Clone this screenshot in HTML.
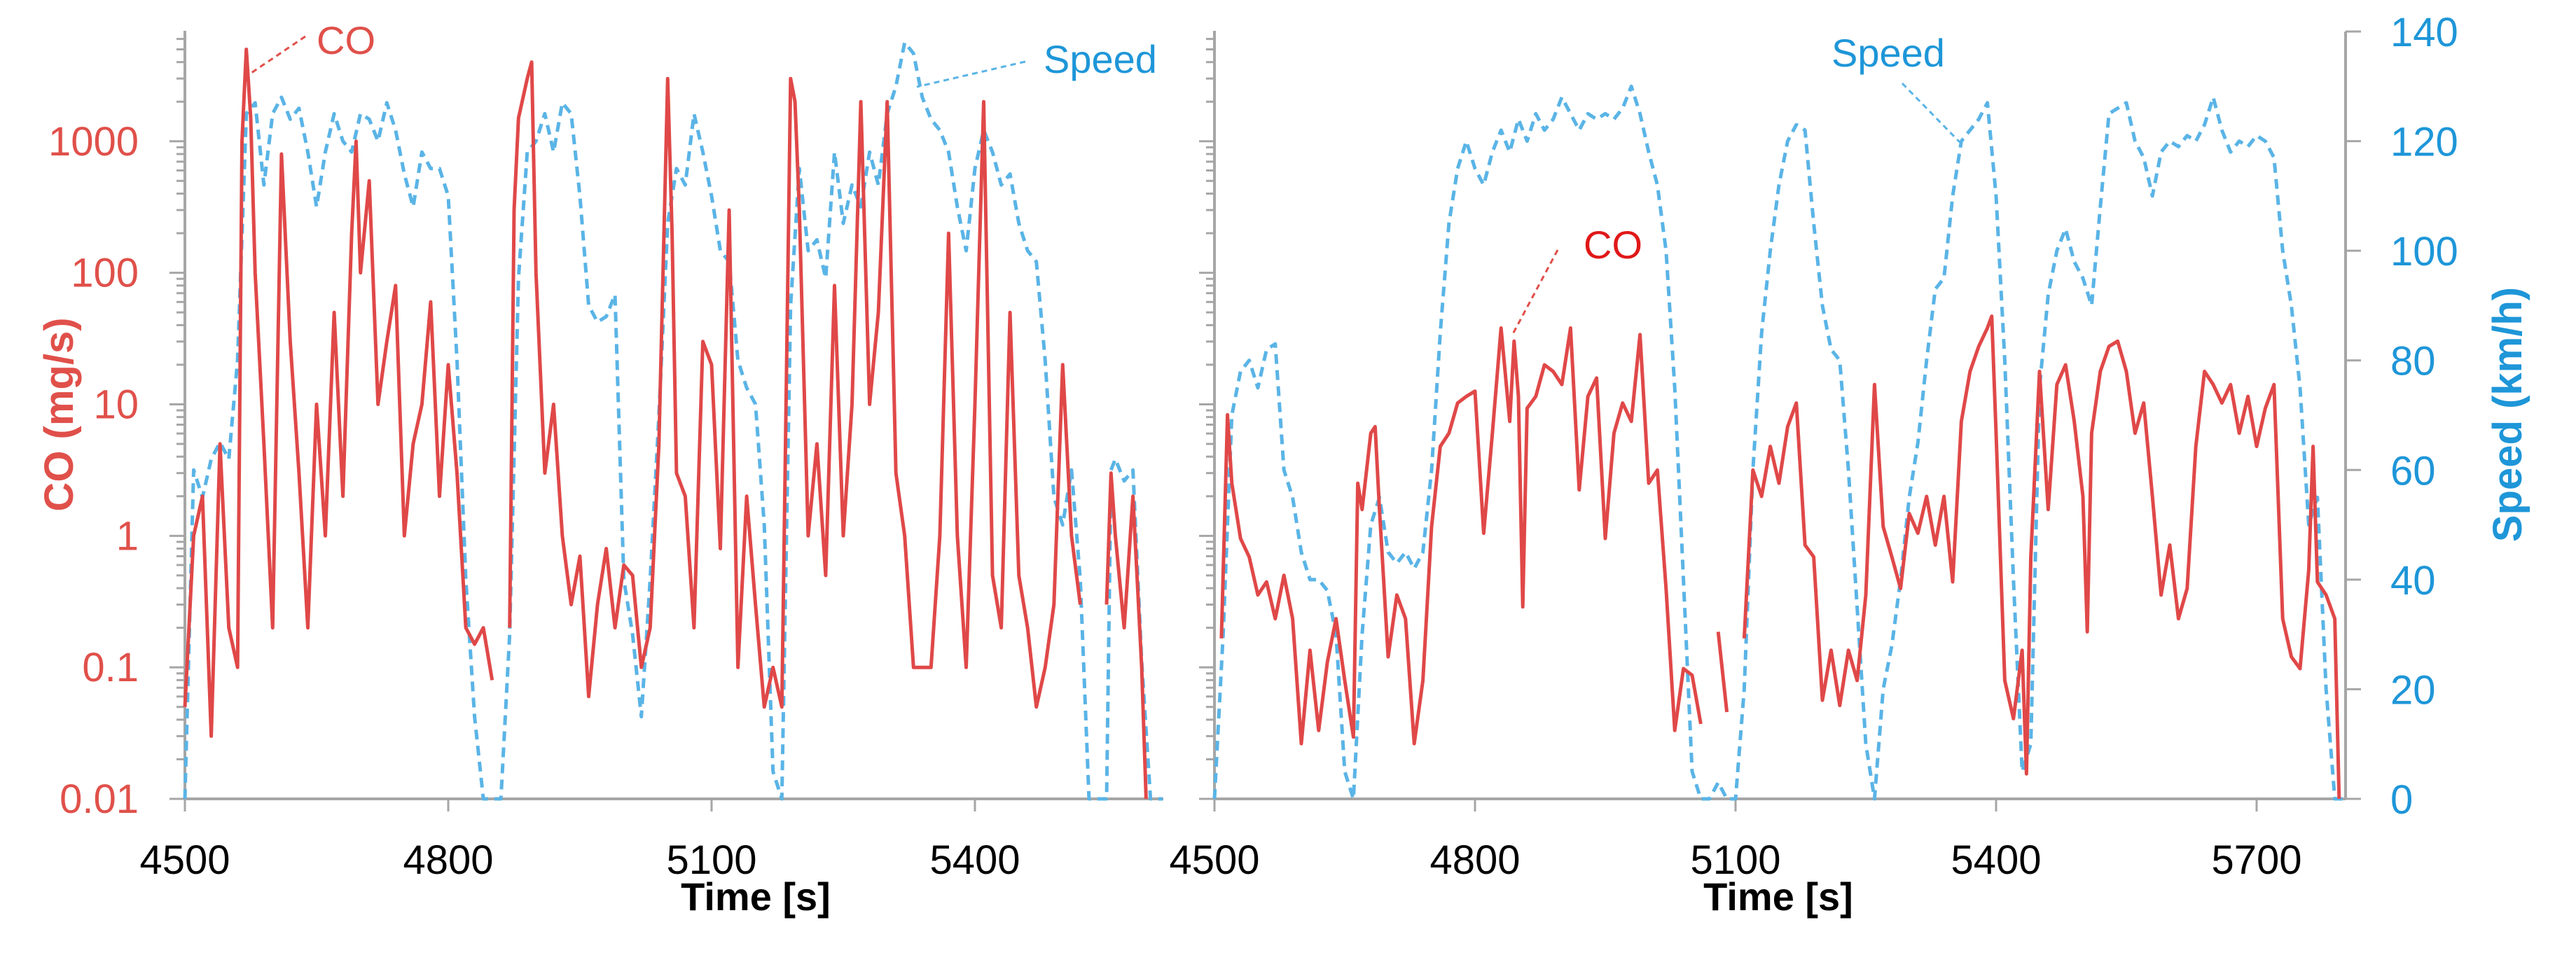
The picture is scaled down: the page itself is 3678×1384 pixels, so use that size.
<!DOCTYPE html>
<html><head><meta charset="utf-8">
<style>
html,body{margin:0;padding:0;background:#fff;}
svg{display:block;font-family:"Liberation Sans",sans-serif;}
</style></head>
<body>
<svg id="chart" width="3678" height="1384" viewBox="0 0 3678 1384" xmlns="http://www.w3.org/2000/svg">
<g id="static">
  <text x="0" y="0" transform="translate(104,592) rotate(-90)" text-anchor="middle" font-size="58" font-weight="bold" fill="#E0504A">CO (mg/s)</text>
  <text x="0" y="0" transform="translate(3600,592) rotate(-90)" text-anchor="middle" font-size="58" font-weight="bold" fill="#1E96D8">Speed  (km/h)</text>
  <text x="1079" y="1300" text-anchor="middle" font-size="56" font-weight="bold" fill="#000">Time [s]</text>
  <text x="2539" y="1300" text-anchor="middle" font-size="56" font-weight="bold" fill="#000">Time [s]</text>
  <text x="452" y="77" font-size="56" fill="#E0504A">CO</text>
  <line x1="436" y1="52" x2="356" y2="106" stroke="#E0504A" stroke-width="3" stroke-dasharray="8,6"/>
  <text x="1490" y="104" font-size="56" fill="#1E96D8">Speed</text>
  <line x1="1464" y1="88" x2="1309" y2="124" stroke="#5AB4E6" stroke-width="3" stroke-dasharray="8,6"/>
  <text x="2615" y="95" font-size="56" fill="#1E96D8">Speed</text>
  <line x1="2716" y1="119" x2="2798" y2="203" stroke="#5AB4E6" stroke-width="3" stroke-dasharray="8,6"/>
  <text x="2261" y="369" font-size="56" fill="#E01818">CO</text>
  <line x1="2224" y1="357" x2="2160" y2="477" stroke="#E0504A" stroke-width="3" stroke-dasharray="8,6"/>
</g>
</svg>
<script>
// ---- data ----
const leftTime = [4500,4510,4520,4530,4540,4550,4560,4565,4570,4575,4580,4590,4600,4610,4620,4630,4640,4650,4660,4670,4680,4690,4695,4700,4710,4720,4730,4740,4750,4760,4770,4780,4790,4800,4810,4820,4830,4840,4850,4860,4870,4875,4880,4890,4895,4900,4910,4920,4930,4940,4950,4960,4970,4980,4990,5000,5010,5020,5030,5040,5050,5055,5060,5070,5080,5090,5100,5110,5120,5130,5140,5150,5160,5170,5180,5190,5195,5200,5210,5220,5230,5240,5250,5260,5270,5280,5290,5300,5310,5320,5330,5340,5350,5360,5370,5380,5390,5400,5410,5420,5430,5440,5450,5460,5470,5480,5490,5500,5510,5520,5535,5550,5555,5560,5570,5580,5590,5595];
const leftCO = [0.05,1,2,0.03,5,0.2,0.1,1000,5000,1500,100,5,0.2,800,30,3,0.2,10,1,50,2,200,1000,100,500,10,30,80,1,5,10,60,2,20,3,0.2,0.15,0.2,0.08,null,0.2,300,1500,3000,4000,100,3,10,1,0.3,0.7,0.06,0.3,0.8,0.2,0.6,0.5,0.1,0.2,5,3000,200,3,2,0.2,30,20,0.8,300,0.1,2,0.3,0.05,0.1,0.05,3000,2000,300,1,5,0.5,80,1,10,2000,10,50,2000,3,1,0.1,0.1,0.1,1,200,1,0.1,10,2000,0.5,0.2,50,0.5,0.2,0.05,0.1,0.3,20,1,0.3,null,0.3,3,1,0.2,2,0.1,0.01];
const leftSpeedTime = [4500,4510,4520,4530,4540,4550,4560,4570,4580,4590,4600,4610,4620,4630,4640,4650,4660,4670,4680,4690,4700,4710,4720,4730,4740,4750,4760,4770,4780,4790,4800,4810,4820,4830,4840,4850,4860,4870,4880,4890,4900,4910,4920,4930,4940,4950,4960,4970,4980,4990,5000,5010,5020,5030,5040,5050,5060,5070,5080,5090,5100,5110,5120,5130,5140,5150,5160,5170,5180,5190,5200,5210,5220,5230,5240,5250,5260,5270,5280,5290,5300,5310,5320,5330,5340,5350,5360,5370,5380,5390,5400,5410,5420,5430,5440,5450,5460,5470,5480,5490,5500,5510,5520,5530,5540,5550,5555,5560,5570,5580,5590,5600,5614];
const leftSpeed = [0,60,55,62,65,62,80,125,127,112,125,128,124,126,118,108,118,125,120,118,125,124,120,127,122,114,108,118,115,115,110,80,40,15,0,0,0,30,95,118,120,125,118,127,125,110,90,87,88,92,40,30,15,40,70,105,115,112,125,118,110,100,98,80,75,72,50,5,0,90,115,100,102,95,118,105,112,108,118,112,125,130,138,136,128,124,122,118,108,100,115,122,118,112,114,105,100,98,80,55,50,60,40,0,0,0,60,62,58,60,25,0,0];
const rightTime = [4508,4515,4520,4530,4540,4550,4560,4570,4580,4590,4600,4610,4620,4630,4640,4650,4660,4665,4670,4680,4685,4690,4700,4710,4720,4730,4740,4750,4760,4770,4780,4790,4800,4810,4820,4830,4840,4845,4850,4855,4860,4870,4880,4890,4900,4910,4920,4930,4940,4950,4960,4970,4980,4990,5000,5010,5020,5030,5040,5050,5060,5070,5080,5090,5100,5110,5120,5130,5140,5150,5160,5170,5180,5190,5200,5210,5220,5230,5240,5250,5260,5270,5280,5290,5300,5310,5320,5330,5340,5350,5360,5370,5380,5390,5395,5400,5410,5420,5430,5435,5440,5450,5460,5470,5480,5490,5500,5505,5510,5520,5530,5540,5550,5560,5570,5580,5590,5600,5610,5620,5630,5640,5650,5660,5670,5680,5690,5700,5710,5720,5730,5740,5750,5760,5765,5770,5780,5790,5795];
const rightCOlog = [-0.78,0.92,0.4,-0.02,-0.16,-0.45,-0.35,-0.63,-0.3,-0.63,-1.58,-0.87,-1.48,-0.96,-0.63,-1.1,-1.53,0.4,0.2,0.78,0.83,0.2,-0.92,-0.45,-0.63,-1.58,-1.1,0.07,0.68,0.78,1.01,1.06,1.1,0.02,0.78,1.58,0.87,1.48,1.06,-0.54,0.97,1.06,1.3,1.25,1.15,1.58,0.35,1.06,1.2,-0.02,0.78,1.01,0.87,1.53,0.4,0.5,-0.4,-1.48,-1.01,-1.06,-1.43,null,-0.73,-1.34,null,-0.78,0.5,0.3,0.68,0.4,0.83,1.01,-0.07,-0.16,-1.25,-0.87,-1.29,-0.87,-1.1,-0.45,1.15,0.07,-0.16,-0.4,0.17,0.02,0.3,-0.07,0.3,-0.35,0.87,1.25,1.44,1.58,1.67,0.78,-1.1,-1.39,-0.87,-1.81,-0.16,1.25,0.2,1.15,1.3,0.87,0.3,-0.73,0.78,1.25,1.44,1.48,1.25,0.78,1.01,0.3,-0.45,-0.07,-0.63,-0.4,0.68,1.25,1.15,1.01,1.15,0.78,1.06,0.68,0.97,1.15,-0.63,-0.92,-1.01,-0.26,0.68,-0.35,-0.45,-0.63,-2];
const rightSpeedTime = [4500,4510,4520,4530,4540,4550,4560,4570,4580,4590,4600,4610,4620,4630,4640,4650,4660,4670,4680,4690,4700,4710,4720,4730,4740,4750,4760,4770,4780,4790,4800,4810,4820,4830,4840,4850,4860,4870,4880,4890,4900,4910,4920,4930,4940,4950,4960,4970,4980,4990,5000,5010,5020,5030,5040,5050,5060,5070,5080,5090,5100,5110,5120,5130,5140,5150,5160,5170,5180,5190,5200,5210,5220,5230,5240,5250,5260,5270,5280,5290,5300,5310,5320,5330,5340,5350,5360,5370,5380,5390,5400,5410,5420,5430,5440,5450,5460,5470,5480,5490,5500,5510,5520,5530,5540,5550,5560,5570,5580,5590,5600,5610,5620,5630,5640,5650,5660,5670,5680,5690,5700,5710,5720,5730,5740,5750,5760,5770,5780,5790,5800];
const rightSpeed = [0,30,70,78,80,75,82,83,60,55,45,40,40,38,30,5,0,30,50,55,45,43,45,42,45,60,85,105,115,120,115,112,118,122,118,124,120,125,122,124,128,125,122,125,124,125,124,126,130,125,118,112,100,75,40,5,0,0,3,0,0,20,60,85,100,112,120,123,122,105,90,82,80,60,35,10,0,20,28,40,55,65,80,93,95,110,120,122,124,127,110,80,40,5,10,75,92,100,104,98,95,90,108,125,126,127,120,117,110,118,120,119,121,120,123,128,122,118,120,119,121,120,117,100,90,75,50,55,20,0,0];
const coTicks = ["0.01","0.1","1","10","100","1000"];
const speedTicks = ["0","20","40","60","80","100","120","140"];
const leftXTicks = [4500,4800,5100,5400];
const rightXTicks = [4500,4800,5100,5400,5700];

// ---- scales ----
const NS = "http://www.w3.org/2000/svg";
const svg = document.getElementById('chart');
const Y0 = 1141, YT = 45;
const L = {x0:264, t0:4500, k:376/300, xEnd:1661};
const R = {x0:1734, t0:4500, k:372/300, xEnd:3349};
const decade = (Y0 - 44) / 5.84;
function yCOlog(lg){ return Y0 - (lg + 2) * decade; }
function yCO(v){ return yCOlog(Math.log10(v)); }
function ySpeed(v){ return Y0 - v / 140 * (Y0 - YT); }
function xOf(p, t){ return p.x0 + (t - p.t0) * p.k; }
function mk(tag, attrs){ const e = document.createElementNS(NS, tag); for (const k in attrs) e.setAttribute(k, attrs[k]); svg.appendChild(e); return e; }
function pathFrom(p, ts, vs, yf){
  let d = '', pen = false;
  for (let i = 0; i < ts.length; i++){
    if (vs[i] === null){ pen = false; continue; }
    d += (pen ? 'L' : 'M') + xOf(p, ts[i]).toFixed(1) + ',' + yf(vs[i]).toFixed(1);
    pen = true;
  }
  return d;
}

// ---- axes ----
const AX = '#A6A6A6';
function logAxis(p, name){
  const g = mk('line', {x1:p.x0, y1:44, x2:p.x0, y2:Y0, stroke:AX, 'stroke-width':4});
  
  
  for (let dcd = -2; dcd <= 3; dcd++){
    for (let m = 1; m <= 9; m++){
      const y = yCOlog(dcd + Math.log10(m));
      if (y < 44) continue;
      const t = mk('line', {x1:p.x0 - (m === 1 ? 22 : 12), y1:y, x2:p.x0, y2:y, stroke:AX, 'stroke-width':3});
      
      
    }
  }
  const yTop = yCOlog(4);
  for (let m = 1; m <= 9; m++){ const y = yCOlog(3 + Math.log10(m)); if (y >= 44){} }
}
function xAxis(p, ticks, name){
  const a = mk('line', {x1:p.x0, y1:Y0, x2:p.xEnd, y2:Y0, stroke:AX, 'stroke-width':4});
  
  
  ticks.forEach(t => {
    const x = xOf(p, t);
    const tk = mk('line', {x1:x, y1:Y0, x2:x, y2:Y0 + 18, stroke:AX, 'stroke-width':3});
    
    
    const lb = mk('text', {x:x, y:1248, 'text-anchor':'middle', 'font-size':58, fill:'#000'});
    
    
    lb.textContent = t;
  });
}
logAxis(L, 'left');
logAxis(R, 'right-panel');
xAxis(L, leftXTicks, 'left');
xAxis(R, rightXTicks, 'right');
coTicks.forEach(s => {
  const lb = mk('text', {x:198, y:yCO(parseFloat(s)) + 20, 'text-anchor':'end', 'font-size':58, fill:'#E0504A'});
  
  
  lb.textContent = s;
});
const ra = mk('line', {x1:R.xEnd, y1:YT, x2:R.xEnd, y2:Y0, stroke:AX, 'stroke-width':4});


speedTicks.forEach(s => {
  const y = ySpeed(parseFloat(s));
  const tk = mk('line', {x1:R.xEnd, y1:y, x2:R.xEnd + 22, y2:y, stroke:AX, 'stroke-width':3});
  
  
  const lb = mk('text', {x:3413, y:y + 21, 'font-size':58, fill:'#1E96D8'});
  
  
  lb.textContent = s;
});

// ---- series ----
const s1 = mk('path', {d:pathFrom(L, leftSpeedTime, leftSpeed, ySpeed), fill:'none', stroke:'#5AB4E6', 'stroke-width':5, 'stroke-dasharray':'14,9', 'stroke-linejoin':'round'});


const c1 = mk('path', {d:pathFrom(L, leftTime, leftCO, yCO), fill:'none', stroke:'#E04848', 'stroke-width':5, 'stroke-linejoin':'round'});


const s2 = mk('path', {d:pathFrom(R, rightSpeedTime, rightSpeed, ySpeed), fill:'none', stroke:'#5AB4E6', 'stroke-width':5, 'stroke-dasharray':'14,9', 'stroke-linejoin':'round'});


const c2 = mk('path', {d:pathFrom(R, rightTime, rightCOlog, yCOlog), fill:'none', stroke:'#E04848', 'stroke-width':5, 'stroke-linejoin':'round'});


</script>
</body></html>
